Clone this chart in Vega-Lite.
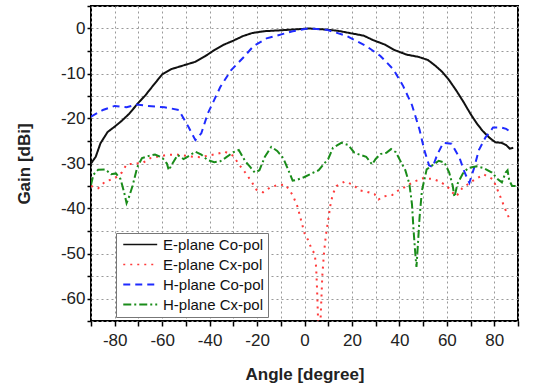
{
  "$schema": "https://vega.github.io/schema/vega-lite/v6.json",
  "autosize": "none",
  "width": 427,
  "height": 315,
  "padding": {"left": 91, "top": 6, "right": 22, "bottom": 65},
  "background": "white",
  "config": {
    "view": {"stroke": "#000", "strokeWidth": 2},
    "font": "Liberation Sans"
  },
  "data": {
    "values": [
      {"s":"E-plane Co-pol","a":-90,"g":-30},{"s":"E-plane Co-pol","a":-88,"g":-28.5},{"s":"E-plane Co-pol","a":-86,"g":-25.5},{"s":"E-plane Co-pol","a":-83,"g":-23},{"s":"E-plane Co-pol","a":-80,"g":-21.8},{"s":"E-plane Co-pol","a":-77,"g":-20.5},{"s":"E-plane Co-pol","a":-74,"g":-19},{"s":"E-plane Co-pol","a":-70,"g":-16.5},{"s":"E-plane Co-pol","a":-67,"g":-14.8},{"s":"E-plane Co-pol","a":-64,"g":-12.8},{"s":"E-plane Co-pol","a":-60,"g":-10.2},{"s":"E-plane Co-pol","a":-56,"g":-9},{"s":"E-plane Co-pol","a":-51,"g":-8.2},{"s":"E-plane Co-pol","a":-46,"g":-7.4},{"s":"E-plane Co-pol","a":-42,"g":-6.2},{"s":"E-plane Co-pol","a":-38,"g":-4.8},{"s":"E-plane Co-pol","a":-34,"g":-3.6},{"s":"E-plane Co-pol","a":-30,"g":-2.7},{"s":"E-plane Co-pol","a":-26,"g":-1.7},{"s":"E-plane Co-pol","a":-22,"g":-1},{"s":"E-plane Co-pol","a":-17,"g":-0.6},{"s":"E-plane Co-pol","a":-10,"g":-0.4},{"s":"E-plane Co-pol","a":-4,"g":-0.2},{"s":"E-plane Co-pol","a":2,"g":0},{"s":"E-plane Co-pol","a":8,"g":-0.2},{"s":"E-plane Co-pol","a":14,"g":-0.5},{"s":"E-plane Co-pol","a":20,"g":-1.1},{"s":"E-plane Co-pol","a":25,"g":-1.6},{"s":"E-plane Co-pol","a":29,"g":-2.6},{"s":"E-plane Co-pol","a":34,"g":-3.6},{"s":"E-plane Co-pol","a":38,"g":-4.8},{"s":"E-plane Co-pol","a":43,"g":-5.8},{"s":"E-plane Co-pol","a":48,"g":-6.3},{"s":"E-plane Co-pol","a":52,"g":-7},{"s":"E-plane Co-pol","a":55,"g":-8.2},{"s":"E-plane Co-pol","a":58,"g":-9.6},{"s":"E-plane Co-pol","a":61,"g":-11.5},{"s":"E-plane Co-pol","a":64,"g":-13.8},{"s":"E-plane Co-pol","a":67,"g":-16.3},{"s":"E-plane Co-pol","a":70,"g":-19},{"s":"E-plane Co-pol","a":72.5,"g":-21},{"s":"E-plane Co-pol","a":75,"g":-22.7},{"s":"E-plane Co-pol","a":78,"g":-24.3},{"s":"E-plane Co-pol","a":80.5,"g":-25.3},{"s":"E-plane Co-pol","a":83,"g":-25.4},{"s":"E-plane Co-pol","a":85,"g":-25.9},{"s":"E-plane Co-pol","a":86.5,"g":-26.7},{"s":"E-plane Co-pol","a":88,"g":-26.5},

      {"s":"E-plane Cx-pol","a":-90,"g":-35},{"s":"E-plane Cx-pol","a":-87,"g":-35.5},{"s":"E-plane Cx-pol","a":-84,"g":-34},{"s":"E-plane Cx-pol","a":-80,"g":-33.3},{"s":"E-plane Cx-pol","a":-77,"g":-32},{"s":"E-plane Cx-pol","a":-75,"g":-30.2},{"s":"E-plane Cx-pol","a":-71,"g":-30},{"s":"E-plane Cx-pol","a":-68,"g":-29.8},{"s":"E-plane Cx-pol","a":-65,"g":-28.8},{"s":"E-plane Cx-pol","a":-61,"g":-28.4},{"s":"E-plane Cx-pol","a":-58,"g":-28.1},{"s":"E-plane Cx-pol","a":-54,"g":-28},{"s":"E-plane Cx-pol","a":-50,"g":-28.3},{"s":"E-plane Cx-pol","a":-47,"g":-28.5},{"s":"E-plane Cx-pol","a":-44,"g":-28.6},{"s":"E-plane Cx-pol","a":-40,"g":-28.2},{"s":"E-plane Cx-pol","a":-36.5,"g":-27.8},{"s":"E-plane Cx-pol","a":-33.5,"g":-27.4},{"s":"E-plane Cx-pol","a":-30,"g":-28.3},{"s":"E-plane Cx-pol","a":-27.5,"g":-30.3},{"s":"E-plane Cx-pol","a":-25,"g":-32},{"s":"E-plane Cx-pol","a":-22.5,"g":-33.9},{"s":"E-plane Cx-pol","a":-20.3,"g":-35.8},{"s":"E-plane Cx-pol","a":-17.5,"g":-36.4},{"s":"E-plane Cx-pol","a":-14.7,"g":-35.4},{"s":"E-plane Cx-pol","a":-11.5,"g":-34.8},{"s":"E-plane Cx-pol","a":-8,"g":-34.7},{"s":"E-plane Cx-pol","a":-5,"g":-37},{"s":"E-plane Cx-pol","a":-3,"g":-39.5},{"s":"E-plane Cx-pol","a":-1.5,"g":-42.5},{"s":"E-plane Cx-pol","a":0,"g":-45.5},{"s":"E-plane Cx-pol","a":1.5,"g":-47},{"s":"E-plane Cx-pol","a":3,"g":-49},{"s":"E-plane Cx-pol","a":4.3,"g":-50.1},{"s":"E-plane Cx-pol","a":4.9,"g":-53},{"s":"E-plane Cx-pol","a":5.3,"g":-58},{"s":"E-plane Cx-pol","a":5.8,"g":-66},{"s":"E-plane Cx-pol","a":6.4,"g":-70},{"s":"E-plane Cx-pol","a":6.9,"g":-63},{"s":"E-plane Cx-pol","a":7.5,"g":-55},{"s":"E-plane Cx-pol","a":8.2,"g":-50},{"s":"E-plane Cx-pol","a":9,"g":-46},{"s":"E-plane Cx-pol","a":10,"g":-42.5},{"s":"E-plane Cx-pol","a":11,"g":-39},{"s":"E-plane Cx-pol","a":12,"g":-36.7},{"s":"E-plane Cx-pol","a":13.5,"g":-35},{"s":"E-plane Cx-pol","a":17,"g":-34},{"s":"E-plane Cx-pol","a":20.4,"g":-34.7},{"s":"E-plane Cx-pol","a":23.5,"g":-36},{"s":"E-plane Cx-pol","a":26.4,"g":-36.3},{"s":"E-plane Cx-pol","a":29.5,"g":-36.8},{"s":"E-plane Cx-pol","a":31.2,"g":-38},{"s":"E-plane Cx-pol","a":33.3,"g":-37.3},{"s":"E-plane Cx-pol","a":37,"g":-37},{"s":"E-plane Cx-pol","a":39.5,"g":-36},{"s":"E-plane Cx-pol","a":42.5,"g":-35.2},{"s":"E-plane Cx-pol","a":45.5,"g":-34.2},{"s":"E-plane Cx-pol","a":49.8,"g":-33.3},{"s":"E-plane Cx-pol","a":54,"g":-33.4},{"s":"E-plane Cx-pol","a":57,"g":-34},{"s":"E-plane Cx-pol","a":60,"g":-35},{"s":"E-plane Cx-pol","a":62.5,"g":-36.5},{"s":"E-plane Cx-pol","a":64,"g":-37.3},{"s":"E-plane Cx-pol","a":66.5,"g":-35.5},{"s":"E-plane Cx-pol","a":70.5,"g":-34},{"s":"E-plane Cx-pol","a":75.5,"g":-32.4},{"s":"E-plane Cx-pol","a":79.5,"g":-33.5},{"s":"E-plane Cx-pol","a":82.5,"g":-37.3},{"s":"E-plane Cx-pol","a":84.2,"g":-39.6},{"s":"E-plane Cx-pol","a":85.6,"g":-41.4},{"s":"E-plane Cx-pol","a":87,"g":-42.9},

      {"s":"H-plane Co-pol","a":-90,"g":-19.6},{"s":"H-plane Co-pol","a":-85,"g":-18.1},{"s":"H-plane Co-pol","a":-80,"g":-17.2},{"s":"H-plane Co-pol","a":-75,"g":-17.5},{"s":"H-plane Co-pol","a":-71,"g":-16.9},{"s":"H-plane Co-pol","a":-66,"g":-17.2},{"s":"H-plane Co-pol","a":-59,"g":-17.5},{"s":"H-plane Co-pol","a":-53,"g":-18.1},{"s":"H-plane Co-pol","a":-49,"g":-21.8},{"s":"H-plane Co-pol","a":-46,"g":-24.8},{"s":"H-plane Co-pol","a":-43.5,"g":-23.3},{"s":"H-plane Co-pol","a":-40.7,"g":-18.8},{"s":"H-plane Co-pol","a":-38,"g":-15.8},{"s":"H-plane Co-pol","a":-35.5,"g":-13},{"s":"H-plane Co-pol","a":-31,"g":-9.3},{"s":"H-plane Co-pol","a":-25.5,"g":-6.3},{"s":"H-plane Co-pol","a":-21.5,"g":-3.9},{"s":"H-plane Co-pol","a":-16,"g":-2.2},{"s":"H-plane Co-pol","a":-9,"g":-1.2},{"s":"H-plane Co-pol","a":-5,"g":-0.6},{"s":"H-plane Co-pol","a":1.5,"g":0},{"s":"H-plane Co-pol","a":9.5,"g":-0.3},{"s":"H-plane Co-pol","a":17.5,"g":-1.6},{"s":"H-plane Co-pol","a":22,"g":-2.8},{"s":"H-plane Co-pol","a":26,"g":-3.9},{"s":"H-plane Co-pol","a":32,"g":-6.1},{"s":"H-plane Co-pol","a":37.5,"g":-9.1},{"s":"H-plane Co-pol","a":41.6,"g":-12.8},{"s":"H-plane Co-pol","a":45.3,"g":-17},{"s":"H-plane Co-pol","a":48.5,"g":-22.5},{"s":"H-plane Co-pol","a":50.5,"g":-27},{"s":"H-plane Co-pol","a":52.5,"g":-30.4},{"s":"H-plane Co-pol","a":54,"g":-30.8},{"s":"H-plane Co-pol","a":56,"g":-28},{"s":"H-plane Co-pol","a":58.5,"g":-25.4},{"s":"H-plane Co-pol","a":62,"g":-25.6},{"s":"H-plane Co-pol","a":65.4,"g":-28.8},{"s":"H-plane Co-pol","a":67.5,"g":-32},{"s":"H-plane Co-pol","a":69.5,"g":-34.3},{"s":"H-plane Co-pol","a":71.5,"g":-31},{"s":"H-plane Co-pol","a":73.5,"g":-27},{"s":"H-plane Co-pol","a":76.3,"g":-24.2},{"s":"H-plane Co-pol","a":79.5,"g":-22},{"s":"H-plane Co-pol","a":83,"g":-22},{"s":"H-plane Co-pol","a":85,"g":-22.3},{"s":"H-plane Co-pol","a":87.5,"g":-23.2},

      {"s":"H-plane Cx-pol","a":-90,"g":-34.8},{"s":"H-plane Cx-pol","a":-89,"g":-32.5},{"s":"H-plane Cx-pol","a":-87,"g":-31.4},{"s":"H-plane Cx-pol","a":-84,"g":-31.3},{"s":"H-plane Cx-pol","a":-81.5,"g":-32.4},{"s":"H-plane Cx-pol","a":-79.5,"g":-32.2},{"s":"H-plane Cx-pol","a":-77.5,"g":-33.5},{"s":"H-plane Cx-pol","a":-76,"g":-36.5},{"s":"H-plane Cx-pol","a":-75,"g":-38.8},{"s":"H-plane Cx-pol","a":-74,"g":-37.5},{"s":"H-plane Cx-pol","a":-72.5,"g":-35},{"s":"H-plane Cx-pol","a":-70.5,"g":-30.8},{"s":"H-plane Cx-pol","a":-68.5,"g":-28.8},{"s":"H-plane Cx-pol","a":-65.5,"g":-28.3},{"s":"H-plane Cx-pol","a":-63,"g":-28},{"s":"H-plane Cx-pol","a":-60,"g":-28.7},{"s":"H-plane Cx-pol","a":-58,"g":-30},{"s":"H-plane Cx-pol","a":-57.2,"g":-31.5},{"s":"H-plane Cx-pol","a":-56,"g":-30.3},{"s":"H-plane Cx-pol","a":-53.5,"g":-28.1},{"s":"H-plane Cx-pol","a":-51,"g":-29},{"s":"H-plane Cx-pol","a":-49,"g":-28.4},{"s":"H-plane Cx-pol","a":-46,"g":-27.4},{"s":"H-plane Cx-pol","a":-43.5,"g":-28},{"s":"H-plane Cx-pol","a":-41,"g":-29.2},{"s":"H-plane Cx-pol","a":-38,"g":-29.7},{"s":"H-plane Cx-pol","a":-35.5,"g":-29.5},{"s":"H-plane Cx-pol","a":-33.5,"g":-28.8},{"s":"H-plane Cx-pol","a":-30,"g":-27.5},{"s":"H-plane Cx-pol","a":-27.7,"g":-27},{"s":"H-plane Cx-pol","a":-25,"g":-29.5},{"s":"H-plane Cx-pol","a":-23,"g":-30.7},{"s":"H-plane Cx-pol","a":-21,"g":-32},{"s":"H-plane Cx-pol","a":-19,"g":-31.5},{"s":"H-plane Cx-pol","a":-16.7,"g":-28.5},{"s":"H-plane Cx-pol","a":-14,"g":-26.3},{"s":"H-plane Cx-pol","a":-11.5,"g":-27.2},{"s":"H-plane Cx-pol","a":-9,"g":-28.8},{"s":"H-plane Cx-pol","a":-7,"g":-31.2},{"s":"H-plane Cx-pol","a":-5,"g":-33.8},{"s":"H-plane Cx-pol","a":-3,"g":-33.6},{"s":"H-plane Cx-pol","a":0,"g":-33},{"s":"H-plane Cx-pol","a":3,"g":-32.2},{"s":"H-plane Cx-pol","a":6,"g":-31.5},{"s":"H-plane Cx-pol","a":8,"g":-30.2},{"s":"H-plane Cx-pol","a":10,"g":-29},{"s":"H-plane Cx-pol","a":12,"g":-26.5},{"s":"H-plane Cx-pol","a":15.5,"g":-25.4},{"s":"H-plane Cx-pol","a":18.5,"g":-25.9},{"s":"H-plane Cx-pol","a":21,"g":-27.6},{"s":"H-plane Cx-pol","a":23.5,"g":-28.1},{"s":"H-plane Cx-pol","a":26,"g":-28.5},{"s":"H-plane Cx-pol","a":28.5,"g":-30.2},{"s":"H-plane Cx-pol","a":30,"g":-29},{"s":"H-plane Cx-pol","a":32,"g":-27.9},{"s":"H-plane Cx-pol","a":34.5,"g":-27.6},{"s":"H-plane Cx-pol","a":36.5,"g":-26.8},{"s":"H-plane Cx-pol","a":38.5,"g":-27.5},{"s":"H-plane Cx-pol","a":40.3,"g":-29.3},{"s":"H-plane Cx-pol","a":42.5,"g":-31.5},{"s":"H-plane Cx-pol","a":44.2,"g":-34.5},{"s":"H-plane Cx-pol","a":45.3,"g":-39},{"s":"H-plane Cx-pol","a":46,"g":-45},{"s":"H-plane Cx-pol","a":46.7,"g":-50},{"s":"H-plane Cx-pol","a":47.2,"g":-53},{"s":"H-plane Cx-pol","a":47.8,"g":-48},{"s":"H-plane Cx-pol","a":48.5,"g":-42},{"s":"H-plane Cx-pol","a":49.5,"g":-36},{"s":"H-plane Cx-pol","a":51.5,"g":-31.3},{"s":"H-plane Cx-pol","a":54.5,"g":-30.2},{"s":"H-plane Cx-pol","a":56.6,"g":-29.4},{"s":"H-plane Cx-pol","a":59,"g":-29.8},{"s":"H-plane Cx-pol","a":61,"g":-32},{"s":"H-plane Cx-pol","a":62.5,"g":-35},{"s":"H-plane Cx-pol","a":63.2,"g":-37.4},{"s":"H-plane Cx-pol","a":64.5,"g":-34.5},{"s":"H-plane Cx-pol","a":66.8,"g":-32.2},{"s":"H-plane Cx-pol","a":69,"g":-31},{"s":"H-plane Cx-pol","a":72.5,"g":-30.6},{"s":"H-plane Cx-pol","a":75.5,"g":-31},{"s":"H-plane Cx-pol","a":79,"g":-32},{"s":"H-plane Cx-pol","a":81.5,"g":-33.5},{"s":"H-plane Cx-pol","a":83.2,"g":-34.2},{"s":"H-plane Cx-pol","a":84.8,"g":-32},{"s":"H-plane Cx-pol","a":85.6,"g":-31.5},{"s":"H-plane Cx-pol","a":86.3,"g":-33.7},{"s":"H-plane Cx-pol","a":87.5,"g":-35},{"s":"H-plane Cx-pol","a":89,"g":-35}
    ]
  },
  "mark": {"type": "line", "clip": true, "strokeWidth": 2},
  "encoding": {
    "x": {
      "field": "a", "type": "quantitative",
      "scale": {"domain": [-90, 90], "nice": false, "zero": false},
      "axis": {
        "title": "Angle [degree]",
        "values": [-90,-80,-70,-60,-50,-40,-30,-20,-10,0,10,20,30,40,50,60,70,80,90],
        "labelExpr": "datum.value % 20 === 0 && abs(datum.value) < 90 ? '' + datum.value : ''",
        "labelFontSize": 17, "labelColor": "#222", "labelPadding": 6, "labelFlush": false,
        "tickSize": 5, "tickColor": "#000", "tickWidth": 1.5,
        "domain": false,
        "grid": true, "gridColor": "#999", "gridDash": [2, 3], "gridWidth": 1,
        "titleFontSize": 17, "titleFontWeight": "bold", "titleColor": "#222", "titlePadding": 18
      }
    },
    "y": {
      "field": "g", "type": "quantitative",
      "scale": {"domain": [-65, 5], "nice": false, "zero": false},
      "axis": {
        "title": "Gain [dBi]",
        "values": [-65,-60,-55,-50,-45,-40,-35,-30,-25,-20,-15,-10,-5,0,5],
        "labelExpr": "datum.value % 10 === 0 ? '' + datum.value : ''",
        "labelFontSize": 17, "labelColor": "#222", "labelPadding": 2, "labelFlush": false,
        "tickSize": 4, "tickColor": "#000", "tickWidth": 1.5,
        "domain": false,
        "grid": true, "gridColor": "#999", "gridDash": [2, 3], "gridWidth": 1,
        "titleFontSize": 17, "titleFontWeight": "bold", "titleColor": "#222", "titlePadding": 27
      }
    },
    "color": {
      "field": "s", "type": "nominal",
      "scale": {"domain": ["E-plane Co-pol","E-plane Cx-pol","H-plane Co-pol","H-plane Cx-pol"], "range": ["#111111","#ff3b3b","#1f2bff","#1a8c1a"]},
      "legend": {
        "title": null, "orient": "none", "legendX": 25, "legendY": 227,
        "symbolType": "M-1,0H7", "symbolSize": 72, "symbolStrokeWidth": 2,
        "labelFontSize": 15, "labelColor": "#111", "labelOffset": 28,
        "strokeColor": "#777", "fillColor": "white", "padding": 4, "rowPadding": 4,
        "cornerRadius": 0
      }
    },
    "strokeDash": {
      "field": "s", "type": "nominal",
      "scale": {"domain": ["E-plane Co-pol","E-plane Cx-pol","H-plane Co-pol","H-plane Cx-pol"], "range": [[1,0],[2,5],[7,5],[8,3,2,3]]},
      "legend": null
    },
    "strokeWidth": {
      "field": "s", "type": "nominal",
      "scale": {"domain": ["E-plane Co-pol","E-plane Cx-pol","H-plane Co-pol","H-plane Cx-pol"], "range": [1.6, 2, 2.2, 2.2]},
      "legend": null
    }
  }
}
